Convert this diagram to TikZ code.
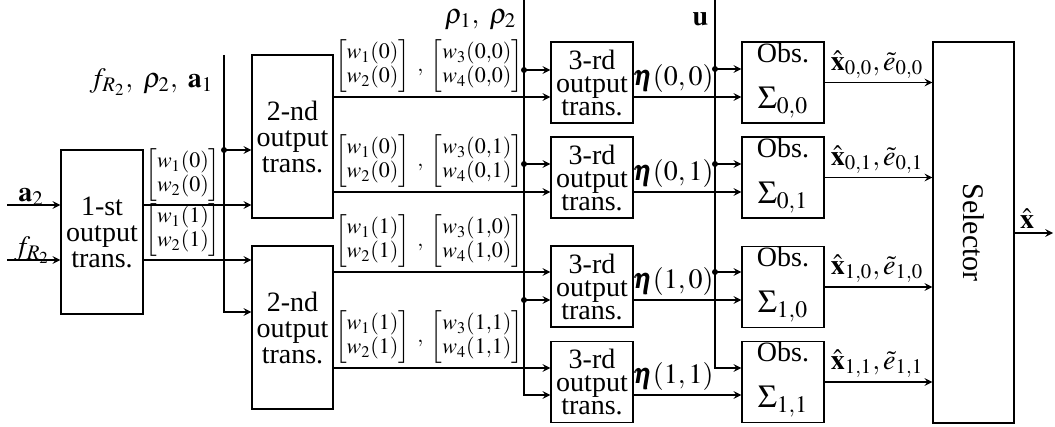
\documentclass[tikz,border=0pt]{standalone}
\usepackage{amsmath}
\usepackage{mathptmx}
\usepackage{bm}
\usepackage{fontspec}
\setmainfont{Liberation Serif}
\usetikzlibrary{positioning}

\tikzset{
  blk/.style={draw,align=center,inner sep=0pt,font=\fontsize{14}{13}\selectfont},
  sml/.style={blk,minimum width=41pt,minimum height=40.5pt,font=\fontsize{14}{11.5}\selectfont},
  obs/.style={blk,minimum width=41pt,minimum height=40.5pt,font=\fontsize{14}{23}\selectfont},
  lab/.style={inner sep=1pt,font=\fontsize{14}{14}\selectfont},
  vec/.style={inner sep=1pt,font=\fontsize{11}{12}\selectfont},
}
\newcommand{\sig}[1]{{\fontsize{16}{23}\selectfont$\Sigma_{#1}$\rule[-7pt]{0pt}{7pt}}}

\begin{document}
\begin{tikzpicture}[x=0.5pt,y=-0.5pt,>=stealth,line width=0.7pt]
  \useasboundingbox (0,0) rectangle (1055,427);
  % blocks
  \node[blk,minimum width=41pt,minimum height=82pt] (t1) at (102,232) {1-st\\output\\trans.};
  \node[blk,minimum width=40.5pt,minimum height=81.5pt] (t2a) at (292.5,136.5) {2-nd\\output\\trans.};
  \node[blk,minimum width=40.5pt,minimum height=81.5pt] (t2b) at (292.5,327.5) {2-nd\\output\\trans.};
  \node[sml] (t3a) at (592,82.5) {3-rd\\output\\trans.};
  \node[sml] (t3b) at (592,177.5) {3-rd\\output\\trans.};
  \node[sml] (t3c) at (592,286.5) {3-rd\\output\\trans.};
  \node[sml] (t3d) at (592,382) {3-rd\\output\\trans.};
  \node[obs] (o00) at (783,82.5) {Obs.\\\sig{0,0}};
  \node[obs] (o01) at (783,177.5) {Obs.\\\sig{0,1}};
  \node[obs] (o10) at (783,287) {Obs.\\\sig{1,0}};
  \node[obs] (o11) at (783,382) {Obs.\\\sig{1,1}};
  \node[draw,minimum width=40.5pt,minimum height=190.5pt] (sel) at (973.5,232.5) {};
  \node[rotate=-90,font=\fontsize{15}{15}\selectfont] (seltxt) at (sel) {Selector};

  % signal levels
  \coordinate (ia) at (7,205);
  \coordinate (if) at (7,260);
  \coordinate (ya) at (0,97);
  \coordinate (yb) at (0,192);
  \coordinate (yc) at (0,272);
  \coordinate (yd) at (0,368);

  % inputs of 1-st block
  \draw[->](ia)--(ia-|t1.west);
  \draw[->](if)--(if-|t1.west);
  \node[lab] (la2) at (31,197) {$\mathbf{a}_2$};
  \node[lab] (lfr) at (32,250) {$f_{R_2}$};

  % 1-st to 2-nd
  \draw[->](t1.east|-ia)--(ia-|t2a.west);
  \draw[->](t1.east|-if)--(if-|t2b.west);
  \node[vec,anchor=south] (v0) at (183,204) {$\begin{bmatrix}w_1(0)\\w_2(0)\end{bmatrix}$};
  \node[vec,anchor=south] (v1) at (183,259) {$\begin{bmatrix}w_1(1)\\w_2(1)\end{bmatrix}$};

  % f_R2, rho_2, a_1
  \coordinate (pf) at (224,55);
  \coordinate (pf1) at (224,150);
  \coordinate (pf2) at (224,312);
  \node[lab,anchor=east] (lf) at (216,82) {$f_{R_2},\ \rho_2,\ \mathbf{a}_1$};
  \draw[->](pf)|-(t2b.west|-pf2);
  \draw[->](pf1)--(pf1-|t2a.west);
  \fill (pf1) circle (1.5pt);

  % 2-nd to 3-rd
  \draw[->](t2a.east|-ya)--(t3a.west|-ya);
  \draw[->](t2a.east|-yb)--(t3b.west|-yb);
  \draw[->](t2b.east|-yc)--(t3c.west|-yc);
  \draw[->](t2b.east|-yd)--(t3d.west|-yd);
  \node[vec,anchor=south] (v00) at (429,95) {$\begin{bmatrix}w_1(0)\\w_2(0)\end{bmatrix}\;,\;\begin{bmatrix}w_3(0{,}0)\\w_4(0{,}0)\end{bmatrix}$};
  \node[vec,anchor=south] (v01) at (429,190) {$\begin{bmatrix}w_1(0)\\w_2(0)\end{bmatrix}\;,\;\begin{bmatrix}w_3(0{,}1)\\w_4(0{,}1)\end{bmatrix}$};
  \node[vec,anchor=south] (v10) at (429,270) {$\begin{bmatrix}w_1(1)\\w_2(1)\end{bmatrix}\;,\;\begin{bmatrix}w_3(1{,}0)\\w_4(1{,}0)\end{bmatrix}$};
  \node[vec,anchor=south] (v11) at (429,366) {$\begin{bmatrix}w_1(1)\\w_2(1)\end{bmatrix}\;,\;\begin{bmatrix}w_3(1{,}1)\\w_4(1{,}1)\end{bmatrix}$};

  % rho_1, rho_2
  \coordinate (pr) at (524,0);
  \coordinate (pr1) at (524,70);
  \coordinate (pr2) at (524,164);
  \coordinate (pr3) at (524,300);
  \coordinate (pr4) at (524,395);
  \node[lab,anchor=east] (lr) at (519,20) {$\rho_1,\ \rho_2$};
  \draw[->](pr)|-(t3d.west|-pr4);
  \draw[->](pr1)--(pr1-|t3a.west);
  \draw[->](pr2)--(pr2-|t3b.west);
  \draw[->](pr3)--(pr3-|t3c.west);
  \fill (pr1) circle (1.5pt) (pr2) circle (1.5pt) (pr3) circle (1.5pt);

  % 3-rd to observers
  \draw[->](t3a.east|-ya)--(o00.west|-ya);
  \draw[->](t3b.east|-yb)--(o01.west|-yb);
  \draw[->](t3c.east|-pr3)--(o10.west|-pr3);
  \draw[->](t3d.east|-pr4)--(o11.west|-pr4);
  \node[lab,anchor=south] (e00) at (673,95) {$\bm{\eta}(0,0)$};
  \node[lab,anchor=south] (e01) at (673,190) {$\bm{\eta}(0,1)$};
  \node[lab,anchor=south] (e10) at (673,298) {$\bm{\eta}(1,0)$};
  \node[lab,anchor=south] (e11) at (673,393) {$\bm{\eta}(1,1)$};

  % u
  \coordinate (pu) at (715,0);
  \coordinate (pu1) at (715,69);
  \coordinate (pu2) at (715,164);
  \coordinate (pu3) at (715,272);
  \coordinate (pu4) at (715,368);
  \node[lab,anchor=east] (lu) at (711,19) {$\mathbf{u}$};
  \draw[->](pu)|-(o11.west|-pu4);
  \draw[->](pu1)--(pu1-|o00.west);
  \draw[->](pu2)--(pu2-|o01.west);
  \draw[->](pu3)--(pu3-|o10.west);
  \fill (pu1) circle (1.5pt) (pu2) circle (1.5pt) (pu3) circle (1.5pt);

  % observers to selector
  \draw[->](o00.east)--(o00.east-|sel.west);
  \draw[->](o01.east)--(o01.east-|sel.west);
  \draw[->](o10.east)--(o10.east-|sel.west);
  \draw[->](o11.east)--(o11.east-|sel.west);
  \node[lab,anchor=south] (x00) at (877,81) {$\hat{\mathbf{x}}_{0,0},\tilde{e}_{0,0}$};
  \node[lab,anchor=south] (x01) at (877,176) {$\hat{\mathbf{x}}_{0,1},\tilde{e}_{0,1}$};
  \node[lab,anchor=south] (x10) at (877,285) {$\hat{\mathbf{x}}_{1,0},\tilde{e}_{1,0}$};
  \node[lab,anchor=south] (x11) at (877,380) {$\hat{\mathbf{x}}_{1,1},\tilde{e}_{1,1}$};

  % output
  \coordinate (xo) at (1053,233);
  \draw[->](sel.east|-xo)--(xo);
  \node[lab,anchor=south] (lx) at (1027,231) {$\hat{\mathbf{x}}$};
\end{tikzpicture}
\end{document}
